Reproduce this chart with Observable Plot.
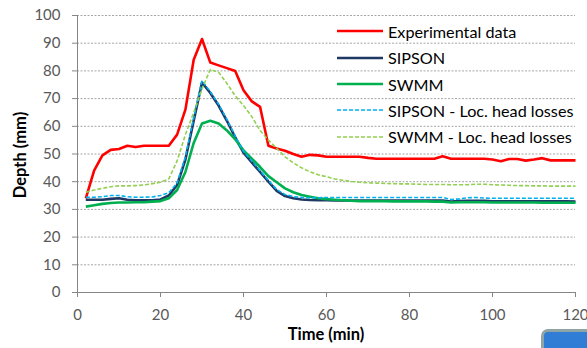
<!DOCTYPE html>
<html>
<head>
<meta charset="utf-8">
<script src="https://cdn.jsdelivr.net/npm/d3@7"></script>
<script src="https://cdn.jsdelivr.net/npm/@observablehq/plot@0.6"></script>
<style>
  html, body { margin: 0; padding: 0; background: #fff; overflow: hidden; }
  #wrap { position: relative; width: 587px; height: 348px; overflow: hidden; }
  #chart svg { display: block; }
  g[aria-label="y-axis tick"] path, g[aria-label="x-axis tick"] path,
  g[aria-label="y-axis"] line, g[aria-label="x-axis"] line { stroke: #868686; }
  .ytitle { position: absolute; left: 20px; top: 155px; transform: translate(-50%, -50%) rotate(-90deg);
            font: bold 16.5px Lato, sans-serif; color: #000; white-space: nowrap; }
  .xtitle { position: absolute; left: 326px; top: 334px; transform: translate(-50%, -50%);
            font: bold 16.5px Lato, sans-serif; color: #000; white-space: nowrap; }
  #legend { position: absolute; left: 337px; top: 0; font: 16.2px Lato, sans-serif; color: #000; }
  .row { position: absolute; left: 0; height: 20px; display: flex; align-items: center; white-space: nowrap; }
  .row svg { width: 46px; height: 6px; margin-right: 5px; }
  .btn { position: absolute; left: 541px; top: 329px; width: 60px; height: 30px; border-radius: 7px;
         border: 3px solid #8fa4a4; background: #2f7dd5; }
</style>
</head>
<body>
<div id="wrap">
  <div id="chart"></div>
  <div class="ytitle">Depth (mm)</div>
  <div class="xtitle">Time (min)</div>
  <div id="legend"></div>
  <div class="btn"></div>
</div>
<script>
const times = [2,4,6,8,10,12,14,16,18,20,22,24,26,28,30,32,34,36,38,40,42,44,46,48,50,52,54,56,58,60,
  62,64,66,68,70,72,74,76,78,80,82,84,86,88,90,92,94,96,98,100,102,104,106,108,110,112,114,116,118,120];

const experimental = [34,44,49.5,51.5,51.8,53,52.5,53,53,53,
  53,57,66,84,91.5,83,82,81,80,73,
  69,67,53,52,51.2,50,49,49.7,49.5,49,
  49,49,49,49,48.6,48.3,48.3,48.3,48.3,48.3,
  48.3,48.3,48.3,49.2,48.3,48.3,48.3,48.3,48.3,48,
  47.4,48.2,48.2,47.6,48,48.5,47.7,47.7,47.7,47.7];

const sipson = [33.5,33.5,33.5,33.8,34,33.5,33.3,33.3,33.3,33.6,
  35,38.8,48,62,75.8,72,67.5,62,56,50.5,
  47,43.5,40,36.7,34.8,34,33.6,33.4,33.3,33.3,
  33.2,33.2,33.2,33.2,33.2,33.2,33.2,33.2,33.2,33.2,
  33.2,33.2,33.2,33.2,32.8,33,33.1,33.1,33.1,32.9,
  32.9,32.9,32.9,32.9,32.9,32.9,32.9,32.9,32.9,32.8];

const swmm = [31,31.5,32,32.3,32.5,32.5,32.6,32.6,32.8,33,
  34,37,43.5,54,61,62,61,58.5,55.3,51.3,
  48.3,45.3,42,39.8,37.6,36.2,35.2,34.6,34,33.7,
  33.5,33.3,33.1,33,33,33,33,32.9,32.9,32.9,
  32.9,32.9,32.8,32.8,32.5,32.6,32.6,32.6,32.6,32.5,
  32.5,32.5,32.5,32.5,32.5,32.4,32.4,32.4,32.4,32.4];

const sipsonLoc = [34.4,34.4,34.6,35,35,34.6,34.4,34.4,34.5,35,
  36,39.5,49,63,76.5,72.5,68,62.5,56.5,51,
  47.5,44,40.5,37.2,35.4,34.6,34.3,34.2,34.2,34.3,
  34.3,34.3,34.3,34.3,34.3,34.3,34.3,34.3,34.3,34.3,
  34.3,34.3,34.3,34.3,33.6,33.8,34.2,34.3,34.1,34,
  34,34,34,34,34,34,34,34,34,34];

const swmmLoc = [36.2,37,37.6,38.2,38.5,38.5,38.6,38.8,39.3,39.8,
  41,47.5,57,65,73.5,80.5,79.5,75.5,71,67.5,
  63.5,58.5,55,52,49,46.8,45,43.6,42.5,41.8,
  41,40.5,40.1,39.8,39.6,39.5,39.4,39.3,39.2,39.2,
  39.1,39,39,39,38.9,38.9,38.9,39.1,39.1,38.9,
  38.8,38.7,38.6,38.6,38.5,38.5,38.4,38.4,38.4,38.4];

const seriesNames = ["Experimental data", "SIPSON", "SWMM", "SIPSON - Loc. head losses", "SWMM - Loc. head losses"];
const seriesValues = [experimental, sipson, swmm, sipsonLoc, swmmLoc];
const seriesColors = ["#ff0000", "#1f3864", "#00b050", "#00b0f0", "#92d050"];
const seriesWidths = [2.6, 2.6, 2.6, 1.6, 1.6];
const seriesDash = [null, null, null, "4,2", "4,2"];

const xTicks = [0, 20, 40, 60, 80, 100, 120];
const yTicks = [0, 10, 20, 30, 40, 50, 60, 70, 80, 90, 100];

const lineMarks = seriesNames.map((name, i) => Plot.line(
  times.map((t, j) => ({t, v: seriesValues[i][j], name})),
  {x: "t", y: "v", stroke: seriesColors[i], strokeWidth: seriesWidths[i],
   strokeDasharray: seriesDash[i] || undefined, strokeLinejoin: "round", strokeLinecap: "butt"}
));

const chart = Plot.plot({
  width: 587,
  height: 348,
  marginLeft: 77,
  marginRight: 12,
  marginTop: 15,
  marginBottom: 56,
  style: {fontFamily: "Lato, sans-serif", fontSize: "15px", color: "#595959", background: "#fff", overflow: "visible"},
  x: {domain: [0, 120], ticks: xTicks, tickSize: 5, tickPadding: 12, label: null},
  y: {domain: [0, 100], ticks: yTicks, tickSize: 5, tickPadding: 12, label: null},
  marks: [
    Plot.ruleY(yTicks.filter(d => d > 0), {stroke: "#a6a6a6", strokeWidth: 1, strokeDasharray: "2,1.5"}),
    Plot.ruleX([0], {stroke: "#868686"}),
    Plot.ruleY([0], {stroke: "#868686"}),
    ...lineMarks
  ]
});
document.getElementById("chart").appendChild(chart);

// Legend (inside the plot area, top right)
const legendRowsY = [31, 57.7, 84, 110.3, 136.7];
const legend = document.getElementById("legend");
seriesNames.forEach((name, i) => {
  const row = document.createElement("div");
  row.className = "row";
  row.style.top = (legendRowsY[i] - 10) + "px";
  const dash = seriesDash[i] ? ` stroke-dasharray="${seriesDash[i]}"` : "";
  row.innerHTML = `<svg viewBox="0 0 46 6"><line x1="0" x2="46" y1="3" y2="3" stroke="${seriesColors[i]}" stroke-width="${seriesWidths[i]}"${dash}/></svg><span>${name}</span>`;
  legend.appendChild(row);
});
</script>
</body>
</html>
